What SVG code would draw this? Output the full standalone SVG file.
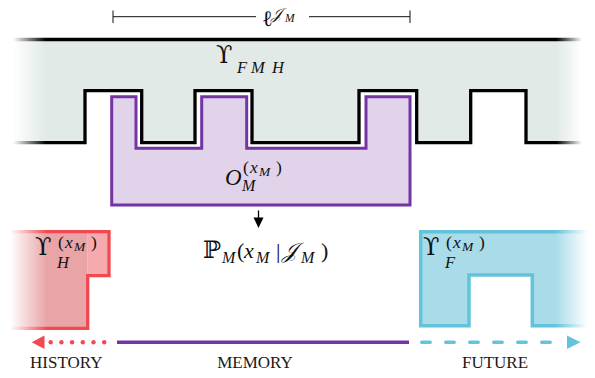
<svg xmlns="http://www.w3.org/2000/svg" width="595" height="378" viewBox="0 0 595 378">
<style>
  .m { font-family: "Liberation Serif", "DejaVu Serif", serif; fill: #111; }
  .i { font-style: italic; }
  .u { font-family: "DejaVu Serif", "Liberation Serif", serif; font-style: normal; font-size: 24px; }
  .cap { font-family: "Liberation Serif", serif; font-size: 17px; fill: #1a1a1a; text-anchor: middle; }
  .blk { fill: none; stroke: #000; stroke-width: 3.3; stroke-linejoin: miter; }
</style>
<defs>
  <linearGradient id="gG" gradientUnits="userSpaceOnUse" x1="13" y1="0" x2="582" y2="0">
    <stop offset="0" stop-color="#000"/>
    <stop offset="0.058" stop-color="#fff"/>
    <stop offset="0.955" stop-color="#fff"/>
    <stop offset="1" stop-color="#000"/>
  </linearGradient>
  <linearGradient id="gR" gradientUnits="userSpaceOnUse" x1="10" y1="0" x2="47" y2="0">
    <stop offset="0" stop-color="#000"/>
    <stop offset="1" stop-color="#fff"/>
  </linearGradient>
  <linearGradient id="gB" gradientUnits="userSpaceOnUse" x1="555" y1="0" x2="588" y2="0">
    <stop offset="0" stop-color="#fff"/>
    <stop offset="1" stop-color="#000"/>
  </linearGradient>
  <mask id="mG" maskUnits="userSpaceOnUse" x="0" y="0" width="595" height="378"><rect width="595" height="378" fill="url(#gG)"/></mask>
  <mask id="mR" maskUnits="userSpaceOnUse" x="0" y="0" width="595" height="378"><rect width="595" height="378" fill="url(#gR)"/></mask>
  <mask id="mB" maskUnits="userSpaceOnUse" x="0" y="0" width="595" height="378"><rect width="595" height="378" fill="url(#gB)"/></mask>
</defs>

<!-- measure bar -->
<g id="measure">
  <path d="M113 16.7 H256 M309 16.7 H410 M113 10.5 V23 M410 10.5 V23" stroke="#111" stroke-width="1" fill="none"/>
  <text class="m" x="262" y="26" font-size="22">ℓ<tspan class="i" x="271" y="19" font-size="15.5">𝒥</tspan><tspan class="i" x="285" y="22" font-size="11.5">M</tspan></text>
</g>

<!-- process band Upsilon_FMH -->
<g id="process" mask="url(#mG)">
  <path d="M13 39.5 H581 V142.7 H526 V90.7 H470.7 V142.7 H416.7 V90.7 H359 V142.7 H252 V90.7 H195 V142.7 H141.7 V90.7 H85 V142.7 H13 Z" fill="#e1eae7"/>
  <path class="blk" d="M13 39.5 H582"/>
  <path class="blk" d="M13 142.7 H85 V90.7 H141.7 V142.7 H195 V90.7 H252 V142.7 H359 V90.7 H416.7 V142.7 H470.7 V90.7 H526 V142.7 H582"/>
</g>
<g id="process-label">
  <text class="m" y="63" font-size="21"><tspan class="u" x="216">ϒ</tspan><tspan class="i" font-size="16.5" x="237" y="73">F</tspan><tspan class="i" font-size="16.5" x="251" y="73">M</tspan><tspan class="i" font-size="16.5" x="272" y="73">H</tspan></text>
</g>

<!-- memory operator -->
<g id="memory">
  <path d="M111.7 96.7 H136 V148.3 H201.7 V96.7 H246.7 V148.3 H366 V96.7 H410 V205 H111.7 Z" fill="#e1d4ea" stroke="#7434a4" stroke-width="3"/>
  <text class="m" y="185" font-size="23"><tspan class="i" x="225">O</tspan><tspan class="i" x="242" y="191" font-size="16">M</tspan><tspan x="243" y="173" font-size="17.5">(</tspan><tspan class="i" x="250" y="173" font-size="17.5">x</tspan><tspan class="i" x="259" y="176" font-size="13.5">M</tspan><tspan x="276" y="173" font-size="17.5">)</tspan></text>
</g>

<!-- probability label -->
<g id="prob">
  <text class="m" y="258" font-size="22"><tspan class="u" x="203" font-size="19">ℙ</tspan><tspan class="i" x="222" y="262.5" font-size="16">M</tspan><tspan x="237" y="258">(</tspan><tspan class="i" x="244">x</tspan><tspan class="i" x="256" y="262.5" font-size="16">M</tspan><tspan x="276" y="258">|</tspan><tspan class="i" x="282">𝒥</tspan><tspan class="i" x="301" y="262.5" font-size="16">M</tspan><tspan x="321" y="258">)</tspan></text>
</g>

<!-- history -->
<g id="history">
  <g mask="url(#mR)">
    <rect x="10" y="231.7" width="77.7" height="96.6" fill="#e8a4a7"/>
    <rect x="87.7" y="231.7" width="21.3" height="44" fill="#f7aaae"/>
    <path d="M8 231.7 H109 V275.7 H87.7 V328.3 H8" fill="none" stroke="#f04a50" stroke-width="3.3"/>
  </g>
  <text class="m" y="255" font-size="21"><tspan class="u" x="35">ϒ</tspan><tspan class="i" x="57" y="268" font-size="16.5">H</tspan><tspan x="58" y="248" font-size="17.5">(</tspan><tspan class="i" x="65" y="248" font-size="17.5">x</tspan><tspan class="i" x="74" y="251" font-size="13.5">M</tspan><tspan x="91" y="248" font-size="17.5">)</tspan></text>
</g>

<!-- future -->
<g id="future">
  <g mask="url(#mB)">
    <path d="M590 231.7 H420.7 V325.7 H469 V275 H532.3 V325.7 H590" fill="#a9dbe8" stroke="#63c3da" stroke-width="3.5"/>
  </g>
  <text class="m" y="255" font-size="21"><tspan class="u" x="423">ϒ</tspan><tspan class="i" x="445" y="268" font-size="16.5">F</tspan><tspan x="446" y="248" font-size="17.5">(</tspan><tspan class="i" x="453" y="248" font-size="17.5">x</tspan><tspan class="i" x="462" y="251" font-size="13.5">M</tspan><tspan x="479" y="248" font-size="17.5">)</tspan></text>
</g>

<!-- connectors -->
<g id="connectors">
  <path d="M258.5 210.5 V219" stroke="#000" stroke-width="1.3"/>
  <polygon points="253.5,217.5 263.5,217.5 258.5,228" fill="#000"/>
  <path d="M117 342.3 H409" stroke="#7434a4" stroke-width="3.5"/>
  <g fill="#f04a50">
    <circle cx="50.7" cy="342.3" r="2.2"/>
    <circle cx="61.4" cy="342.3" r="2.2"/>
    <circle cx="72.1" cy="342.3" r="2.2"/>
    <circle cx="82.8" cy="342.3" r="2.2"/>
    <circle cx="93.5" cy="342.3" r="2.2"/>
    <circle cx="104.2" cy="342.3" r="2.2"/>
    <polygon points="31.7,342.3 44.5,335.5 44.5,349"/>
  </g>
  <path d="M421.7 342.3 H565" stroke="#63c3da" stroke-width="3.5" stroke-linecap="round" stroke-dasharray="8.5 15.5" fill="none"/>
  <polygon points="580.5,342.3 567,335.5 567,349" fill="#63c3da"/>
</g>

<g id="captions">
  <text class="cap" x="66.3" y="368">HISTORY</text>
  <text class="cap" x="255" y="368">MEMORY</text>
  <text class="cap" x="495" y="368">FUTURE</text>
</g>
</svg>
